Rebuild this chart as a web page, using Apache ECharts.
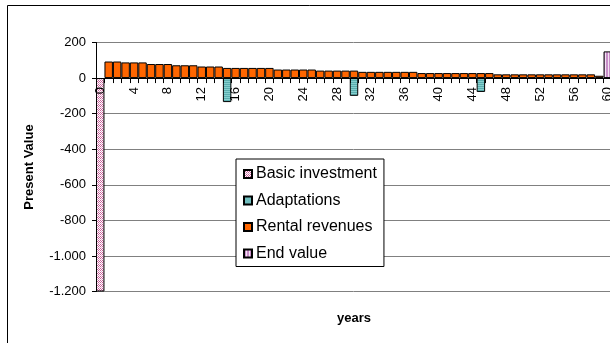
<!DOCTYPE html>
<html>
<head>
<meta charset="utf-8">
<script src="https://cdn.jsdelivr.net/npm/echarts@6/dist/echarts.min.js"></script>
<style>
  html, body { margin: 0; padding: 0; background: #fff; }
  #chart { width: 610px; height: 343px; }
</style>
</head>
<body>
<div id="chart"></div>
<script>
// Cash-flow present values per year
const years = [0,1,2,3,4,5,6,7,8,9,10,11,12,13,14,15,16,17,18,19,20,
  21,22,23,24,25,26,27,28,29,30,31,32,33,34,35,36,37,38,39,40,
  41,42,43,44,45,46,47,48,49,50,51,52,53,54,55,56,57,58,59,60];

const basicInvestment = { 0: -1200 };
const adaptations = { 15: -135, 30: -100, 45: -78 };
const rentalRevenues = [null,
  93, 93, 88, 88, 88, 79, 79, 79, 72, 72,
  72, 65, 65, 65, 57, 57, 57, 57, 57, 57,
  48, 48, 48, 48, 48, 42, 42, 42, 42, 42,
  35, 35, 35, 35, 35, 35, 35, 28, 28, 28,
  28, 28, 28, 28, 28, 28, 21, 21, 21, 21,
  21, 21, 21, 21, 21, 21, 21, 21, 13, null];
const endValue = { 60: 150 };

const yTicks = { min: -1200, max: 200, step: 200 };

function toSeries(map) {
  return years.map(y => (map[y] !== undefined ? map[y] : null));
}

// small tiled fills for the patterned bars
function makePattern(w, h, paint) {
  const c = document.createElement('canvas');
  c.width = w; c.height = h;
  paint(c.getContext('2d'));
  return { image: c, repeat: 'repeat' };
}
const hatchPink = makePattern(4, 4, ctx => {
  ctx.fillStyle = '#ffffff'; ctx.fillRect(0, 0, 4, 4);
  ctx.fillStyle = '#c9609a';
  ctx.fillRect(0, 0, 1, 1); ctx.fillRect(2, 0, 1, 1);
  ctx.fillRect(1, 1, 1, 1); ctx.fillRect(3, 1, 1, 1);
  ctx.fillRect(0, 2, 1, 1); ctx.fillRect(2, 2, 1, 1);
  ctx.fillStyle = '#e0a8c8';
  ctx.fillRect(1, 3, 1, 1); ctx.fillRect(3, 3, 1, 1);
});
const tealRows = makePattern(2, 2, ctx => {
  ctx.fillStyle = '#5aaeae'; ctx.fillRect(0, 0, 2, 1);
  ctx.fillStyle = '#86cfcf'; ctx.fillRect(0, 1, 2, 1);
});
const lilacStripes = makePattern(3, 3, ctx => {
  ctx.fillStyle = '#c88ec8'; ctx.fillRect(0, 0, 2, 3);
  ctx.fillStyle = '#f3e2f3'; ctx.fillRect(2, 0, 1, 3);
});

const font = "'Liberation Sans', Arial, sans-serif";
const barEdge = { borderColor: '#000', borderWidth: 1 };

// plot box in pixels
const plotTop = 42.5, plotBottom = 51.5, chartH = 343;
// distance from the bottom edge of the plot up to the zero line
const zeroLift = (chartH - plotBottom - plotTop) * (-yTicks.min) / (yTicks.max - yTicks.min);

function fmtThousands(v) {
  const s = String(Math.abs(v)).replace(/\B(?=(\d{3})+(?!\d))/g, '.');
  return (v < 0 ? '-' : '') + s;
}

const chart = echarts.init(document.getElementById('chart'), null, { renderer: 'canvas' });
chart.setOption({
  animation: false,
  backgroundColor: '#fff',
  graphic: [{
    type: 'rect',
    shape: { x: 7.5, y: 5.5, width: 700, height: 500 },
    style: { fill: 'none', stroke: '#000', lineWidth: 1 },
    silent: true, z: 0
  }],
  grid: {
    left: 96, right: -2, top: plotTop, bottom: plotBottom,
    containLabel: false, outerBoundsMode: 'none'
  },
  legend: {
    orient: 'vertical',
    left: 236, top: 159,
    padding: [7, 7, 5, 7],
    itemGap: 10.5,
    itemWidth: 8, itemHeight: 8,
    backgroundColor: '#fff',
    borderColor: '#000', borderWidth: 1, borderRadius: 0,
    icon: 'rect',
    textStyle: { fontFamily: font, fontSize: 16, color: '#000', padding: [0, 0, 0, -1] },
    data: ['Basic investment', 'Adaptations', 'Rental revenues', 'End value']
  },
  xAxis: {
    type: 'category',
    data: years,
    z: 5,
    name: 'years',
    nameLocation: 'middle',
    nameGap: 20,
    nameTextStyle: { fontFamily: font, fontSize: 13, fontWeight: 'bold', color: '#000' },
    axisLine: { onZero: true, lineStyle: { color: '#000', width: 1 } },
    axisTick: { show: true, interval: 0, length: 5, lineStyle: { color: '#000' } },
    axisLabel: {
      interval: 3, rotate: 90, margin: 9 - zeroLift,
      fontFamily: font, fontSize: 13, color: '#000'
    },
    splitLine: { show: false }
  },
  yAxis: {
    type: 'value',
    min: yTicks.min, max: yTicks.max, interval: yTicks.step,
    name: 'Present Value',
    nameLocation: 'middle',
    nameGap: 60,
    nameTextStyle: { fontFamily: font, fontSize: 13, fontWeight: 'bold', color: '#000' },
    axisLine: { show: true, lineStyle: { color: '#000', width: 1 } },
    axisTick: { show: true, length: 4, lineStyle: { color: '#000' } },
    axisLabel: {
      margin: 10, fontFamily: font, fontSize: 13, color: '#000',
      formatter: fmtThousands
    },
    splitLine: { show: true, lineStyle: { color: '#808080', width: 1 } }
  },
  series: [
    { name: 'Basic investment', type: 'bar', stack: 'cf', barCategoryGap: 0,
      data: toSeries(basicInvestment), itemStyle: Object.assign({ color: hatchPink }, barEdge) },
    { name: 'Adaptations', type: 'bar', stack: 'cf', barCategoryGap: 0,
      data: toSeries(adaptations), itemStyle: Object.assign({ color: tealRows }, barEdge) },
    { name: 'Rental revenues', type: 'bar', stack: 'cf', barCategoryGap: 0,
      data: rentalRevenues, itemStyle: Object.assign({ color: '#ff6600' }, barEdge) },
    { name: 'End value', type: 'bar', stack: 'cf', barCategoryGap: 0,
      data: toSeries(endValue), itemStyle: Object.assign({ color: lilacStripes }, barEdge) }
  ]
});
</script>
</body>
</html>
